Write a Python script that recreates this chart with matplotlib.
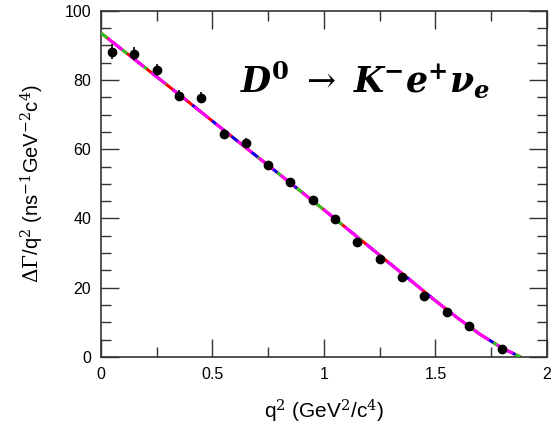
import numpy as np
import matplotlib
matplotlib.use("Agg")
import matplotlib.pyplot as plt
from matplotlib.ticker import MultipleLocator

plt.rcParams['font.family'] = ['Liberation Sans', 'DejaVu Sans']
plt.rcParams['mathtext.fontset'] = 'dejavuserif'

## measured points (bin centres, values, errors)
q2_pts = [0.05, 0.15, 0.25, 0.35, 0.45, 0.55, 0.65, 0.75, 0.85, 0.95,
          1.05, 1.15, 1.25, 1.35, 1.45, 1.55, 1.65, 1.80]
rate_pts = [88.2, 87.6, 83.0, 75.5, 74.9, 64.5, 61.9, 55.3, 50.4, 45.2,
            39.8, 33.3, 28.3, 23.0, 17.6, 13.1, 8.8, 2.2]
rate_err = [2.2, 1.8, 1.7, 1.6, 1.6, 1.4, 1.3, 1.1, 1.0, 1.0,
            0.9, 0.9, 0.8, 0.8, 0.7, 0.7, 0.6, 0.5]

## fitted curve
q2_fit = [0.0, 0.2, 0.4, 0.6, 0.8, 1.0, 1.2, 1.4, 1.5, 1.6, 1.7, 1.8, 1.88]
rate_fit = [93.6, 83.5, 73.3, 63.0, 52.8, 42.5, 32.0, 21.5, 16.2, 11.2, 6.5, 2.5, 0.0]

fig = plt.figure(figsize=(5.57, 4.32), dpi=100)
ax = fig.add_axes([0.181, 0.174, 0.801, 0.801])

ax.plot(q2_fit, rate_fit, color='red', lw=2.2, zorder=2)
ax.plot(q2_fit, rate_fit, color='#22cc22', lw=2.0, ls=(0, (3, 6)), zorder=3)
ax.plot(q2_fit, rate_fit, color='blue', lw=2.0, ls=(3, (3, 6)), zorder=3)
ax.plot(q2_fit, rate_fit, color='magenta', lw=2.2, ls=(6, (6, 3)), zorder=4)

ax.errorbar(q2_pts, rate_pts, yerr=rate_err, fmt='o', color='black',
            ms=6, elinewidth=1.2, capsize=0, zorder=5)

ax.set_xlim(0, 2)
ax.set_ylim(0, 100)
ax.xaxis.set_major_locator(MultipleLocator(0.5))
ax.xaxis.set_minor_locator(MultipleLocator(0.25))
ax.yaxis.set_major_locator(MultipleLocator(20))
ax.yaxis.set_minor_locator(MultipleLocator(5))
ax.set_xticks([0, 0.5, 1, 1.5, 2])
ax.set_xticklabels(['0', '0.5', '1', '1.5', '2'])
ax.tick_params(which='both', direction='in', top=True, right=True,
               labelsize=11.5, color='#333333', width=1.0)
ax.tick_params(which='major', length=13, pad=7)
ax.tick_params(which='minor', length=7)
for s in ax.spines.values():
    s.set_color('#333333')
    s.set_linewidth(1.2)

ax.set_xlabel(r'q$^2$ (GeV$^2$/c$^4$)', fontsize=15, labelpad=12)
ax.set_ylabel(r'$\Delta\Gamma$/q$^2$ (ns$^{-1}$GeV$^{-2}$c$^4$)', fontsize=14.5, labelpad=13)

ax.text(0.592, 0.80,
        r'$\mathbfit{D}^{\mathbf{0}}\ \rightarrow\ \mathbfit{K}^{\mathbf{-}}\mathbfit{e}^{\mathbf{+}}\mathbfit{\nu}_{\mathbfit{e}}$',
        transform=ax.transAxes, fontsize=25, ha='center', va='center')

plt.savefig('out.png', dpi=100)
plt.close()
